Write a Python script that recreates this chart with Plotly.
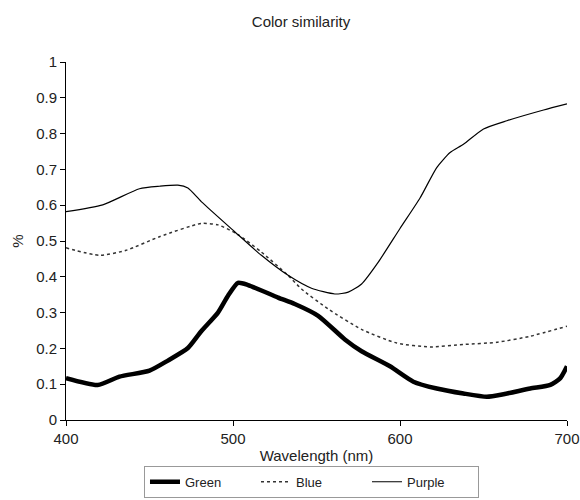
import plotly.graph_objects as go

green_x = [400, 419, 432, 450, 461, 473, 481, 491, 497, 503, 509, 527, 537, 551, 567, 577, 594, 608, 622, 638, 652, 662, 678, 690, 696, 700]
green_y = [0.117, 0.098, 0.121, 0.138, 0.166, 0.201, 0.248, 0.300, 0.347, 0.383, 0.377, 0.342, 0.324, 0.291, 0.225, 0.192, 0.150, 0.107, 0.088, 0.074, 0.065, 0.072, 0.088, 0.098, 0.117, 0.150]

blue_x = [400, 420, 436, 456, 481, 491, 503, 517, 533, 541, 557, 577, 598, 618, 638, 658, 678, 700]
blue_y = [0.481, 0.460, 0.474, 0.512, 0.549, 0.545, 0.518, 0.469, 0.404, 0.366, 0.310, 0.253, 0.215, 0.204, 0.211, 0.217, 0.234, 0.262]

purple_x = [400, 422, 444, 456, 467, 473, 481, 501, 517, 533, 547, 561, 569, 577, 587, 600, 612, 622, 630, 638, 650, 664, 686, 700]
purple_y = [0.582, 0.601, 0.646, 0.653, 0.656, 0.648, 0.610, 0.526, 0.460, 0.404, 0.368, 0.352, 0.357, 0.380, 0.441, 0.535, 0.620, 0.705, 0.747, 0.770, 0.813, 0.836, 0.866, 0.883]

x_ticks = [400, 500, 600, 700]
y_ticks = [0, 0.1, 0.2, 0.3, 0.4, 0.5, 0.6, 0.7, 0.8, 0.9, 1]
y_tick_labels = ["0", "0.1", "0.2", "0.3", "0.4", "0.5", "0.6", "0.7", "0.8", "0.9", "1"]

fig = go.Figure()
fig.add_trace(go.Scatter(x=green_x, y=green_y, name="Green", mode="lines",
                         line=dict(color="black", width=4.5, shape="spline", smoothing=0.6)))
fig.add_trace(go.Scatter(x=blue_x, y=blue_y, name="Blue", mode="lines",
                         line=dict(color="#333333", width=1.5, dash="3px,3px", shape="spline", smoothing=0.6)))
fig.add_trace(go.Scatter(x=purple_x, y=purple_y, name="Purple", mode="lines",
                         line=dict(color="black", width=1.2, shape="spline", smoothing=0.6)))

fam = "Liberation Sans, Arial, sans-serif"
txt_col = "#222222"
tick_font = dict(family=fam, size=15, color=txt_col)

fig.update_layout(
    width=580, height=500,
    paper_bgcolor="white", plot_bgcolor="white",
    margin=dict(l=66, r=13, t=62, b=80, autoexpand=False),
    font=dict(family=fam, size=15, color=txt_col),
    title=dict(text="Color similarity", x=0.519, xanchor="center", y=0.956, yanchor="middle",
               font=dict(family=fam, size=15, color=txt_col)),
    xaxis=dict(range=[400, 700], tickvals=x_ticks, showgrid=False, zeroline=False, automargin=False,
               showline=True, linecolor="black", linewidth=1, ticks="outside", ticklen=5,
               tickcolor="black", title=dict(text="Wavelength (nm)", standoff=4, font=dict(family=fam, size=15)),
               tickfont=tick_font),
    yaxis=dict(range=[0, 1], tickvals=y_ticks, ticktext=y_tick_labels, showgrid=False, zeroline=False,
               automargin=False,
               showline=True, linecolor="black", linewidth=1, ticks="outside", ticklen=5,
               tickcolor="black", title=dict(text="%", standoff=8, font=dict(family=fam, size=15)),
               tickfont=tick_font),
    legend=dict(orientation="h", x=0.49, xanchor="center", y=-0.128, yanchor="top",
                bordercolor="#999999", borderwidth=1, bgcolor="white",
                font=dict(family=fam, size=13, color=txt_col),
                entrywidth=66, entrywidthmode="pixels",
                itemwidth=30, tracegroupgap=0),
    showlegend=True,
)

fig.write_html("out.html", config={"displayModeBar": False},
               post_script="document.body.style.margin='0';document.body.style.overflow='hidden';")
